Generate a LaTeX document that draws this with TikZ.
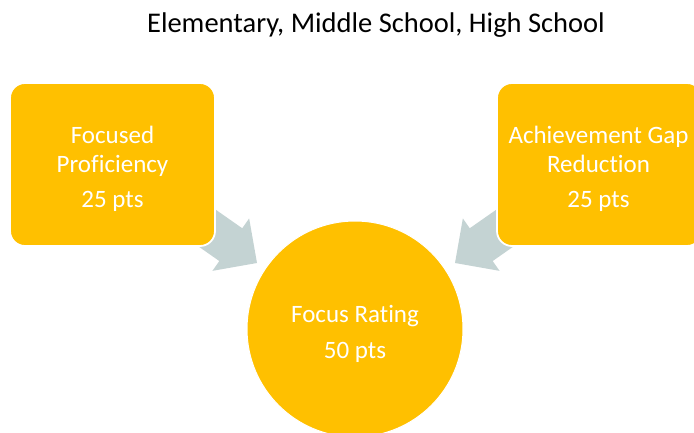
\documentclass[tikz,border=0pt]{standalone}
\usepackage{fontspec}
\setmainfont[Ligatures=CommonOff]{Carlito}
\definecolor{gold}{RGB}{255,192,0}
\definecolor{arrowgray}{RGB}{196,211,211}
\begin{document}
\begin{tikzpicture}[x=1pt,y=-1pt,
  box/.style={draw=white, line width=1.8pt, fill=gold, rounded corners=15pt,
    minimum width=205pt, minimum height=163pt, inner sep=0pt},
  disc/.style={circle, fill=gold, draw=white, line width=1pt,
    minimum size=216pt, inner sep=0pt},
  inlabel/.style={text=white, align=center, inner sep=0pt,
    font=\fontsize{25}{29}\selectfont},
  blockarrow/.style={fill=arrowgray, draw=none}]
\useasboundingbox (0,0) rectangle (694,433);
\clip (0,0) rectangle (694,433);
% arrow tips
\coordinate (tipL) at (257,263);
\coordinate (tipR) at (455,263);
% block arrows (behind the shapes)
\begin{scope}[shift={(tipL)}, rotate=-35]
  \fill[blockarrow] (0,0) -- (-32,32) -- (-32,20) -- (-95,20) -- (-95,-20)
    -- (-32,-20) -- (-32,-32) -- cycle;
\end{scope}
\begin{scope}[shift={(tipR)}, rotate=-145]
  \fill[blockarrow] (0,0) -- (-32,32) -- (-32,20) -- (-95,20) -- (-95,-20)
    -- (-32,-20) -- (-32,-32) -- cycle;
\end{scope}
% shapes
\node[box] (boxL) at (112.5,164.5) {};
\node[box] (boxR) at (599.5,164.5) {};
\node[disc] (focus) at (355,329) {};
% texts
\node[anchor=base, font=\fontsize{28.5}{34}\selectfont] (title) at (376,33)
  {Elementary, Middle School, High School};
\node[inlabel] (tL) at (112.5,169) {Focused\\Proficiency\\[6pt]25 pts};
\node[inlabel] (tR) at (598.5,169) {Achievement Gap\\Reduction\\[6pt]25 pts};
\node[inlabel] (tC) at (355,334) {Focus Rating\\[7pt]50 pts};
\end{tikzpicture}
\end{document}
